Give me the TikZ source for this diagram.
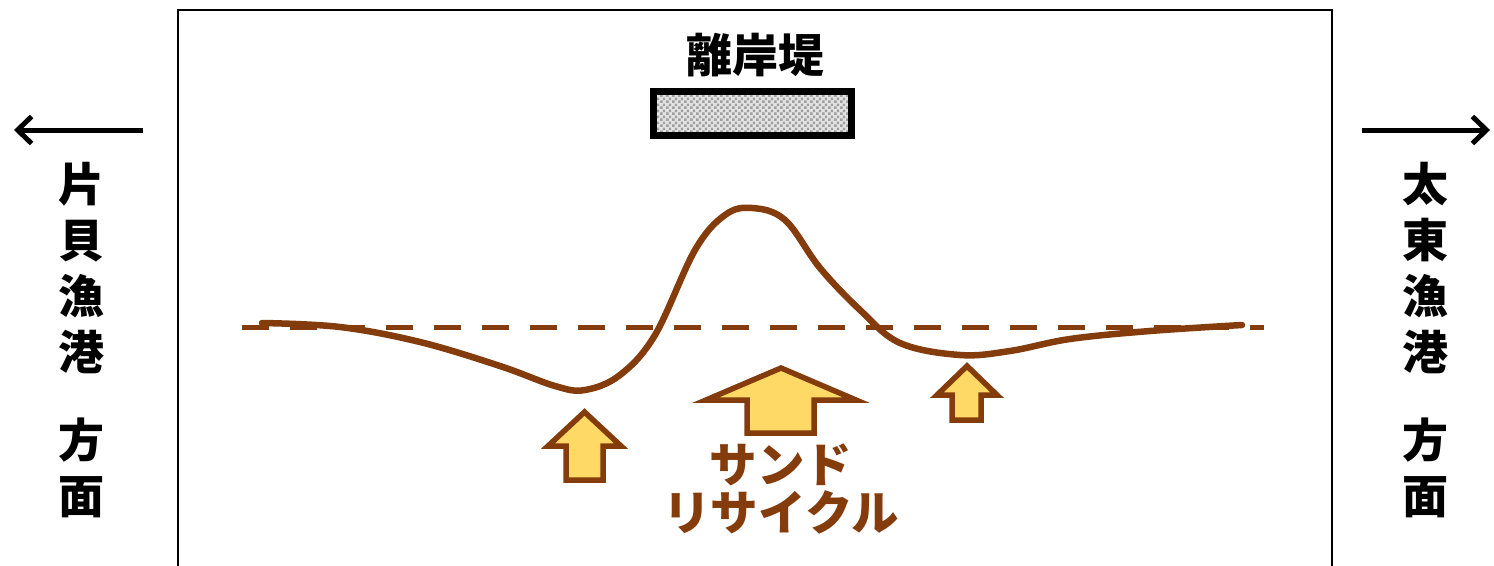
\documentclass[tikz,border=0pt]{standalone}
\usepackage{fontspec}
\newfontfamily\cjk{Noto Sans CJK JP}
\usetikzlibrary{patterns,arrows.meta}
\definecolor{brn}{HTML}{843C0C}
\definecolor{ylw}{HTML}{FFD966}
\pgfdeclarepatternformonly{gravel}{\pgfpointorigin}{\pgfpoint{6pt}{6pt}}{\pgfpoint{6pt}{6pt}}{
  \pgfpathrectangle{\pgfpoint{0.2pt}{0.2pt}}{\pgfpoint{2.8pt}{2.8pt}}
  \pgfpathrectangle{\pgfpoint{3.2pt}{3.2pt}}{\pgfpoint{2.8pt}{2.8pt}}
  \pgfusepath{fill}}
\tikzset{
  jp/.style={font=\cjk\bfseries\fontsize{46}{56}\selectfont, inner sep=0pt, align=center},
  uparrow/.style={draw=brn, fill=ylw, line width=5.5pt, line join=miter},
  dirarrow/.style={line width=5pt, -{Straight Barb[length=14pt,width=27pt,line width=5pt]}},
}
\begin{document}
\begin{tikzpicture}[x=1pt,y=-1pt]
\useasboundingbox (0,0) rectangle (1494,565);
% frame
\draw[line width=2pt] (178,575) -- (178,10) -- (1332,10) -- (1332,575);
% breakwater
\node[jp] (title) at (755,55) {離岸堤};
\node[draw, line width=7pt, minimum width=198pt, minimum height=44pt, inner sep=0pt,
      preaction={fill=gray!22}, pattern=gravel, pattern color=gray!75] (wall) at (752,113) {};
% direction texts
\node[jp] (left) at (81,340) {片\\貝\\漁\\港\\[32pt]方\\面};
\node[jp] (right) at (1425,340) {太\\東\\漁\\港\\[32pt]方\\面};
\coordinate (la0) at (143,130);
\coordinate (la1) at (14,130);
\coordinate (ra0) at (1362,130);
\coordinate (ra1) at (1490,130);
\draw[dirarrow] (la0) -- (la1);
\draw[dirarrow] (ra0) -- (ra1);
% original shoreline
\coordinate (d0) at (242,327);
\coordinate (d1) at (1264,327);
\draw[brn, line width=5pt, dash pattern=on 27pt off 21pt] (d0) -- (d1);
% present shoreline
\draw[brn, line width=6.5pt, line cap=round] plot[smooth, tension=0.6] coordinates {
 (262,323) (340,327) (420,342) (500,366) (555,386) (585,390) (620,375) (655,335)
 (695,250) (725,215) (752,208) (785,220) (820,268) (860,310) (900,343) (960,355)
 (1010,351) (1070,339) (1150,331) (1242,325)};
% sand recycle arrows
\draw[uparrow] (584.5,412) -- (621,446) -- (603,446) -- (603,480) -- (566,480) -- (566,446) -- (548,446) -- cycle;
\draw[uparrow] (781,368) -- (856,400) -- (814,400) -- (814,433) -- (747,433) -- (747,400) -- (706,400) -- cycle;
\draw[uparrow] (967,366) -- (997,395) -- (981,395) -- (981,420) -- (952,420) -- (952,395) -- (937,395) -- cycle;
\node[jp, text=brn, font=\cjk\bfseries\fontsize{47.5}{48}\selectfont] (sand) at (781,489) {サンド\\リサイクル};
\end{tikzpicture}
\end{document}
